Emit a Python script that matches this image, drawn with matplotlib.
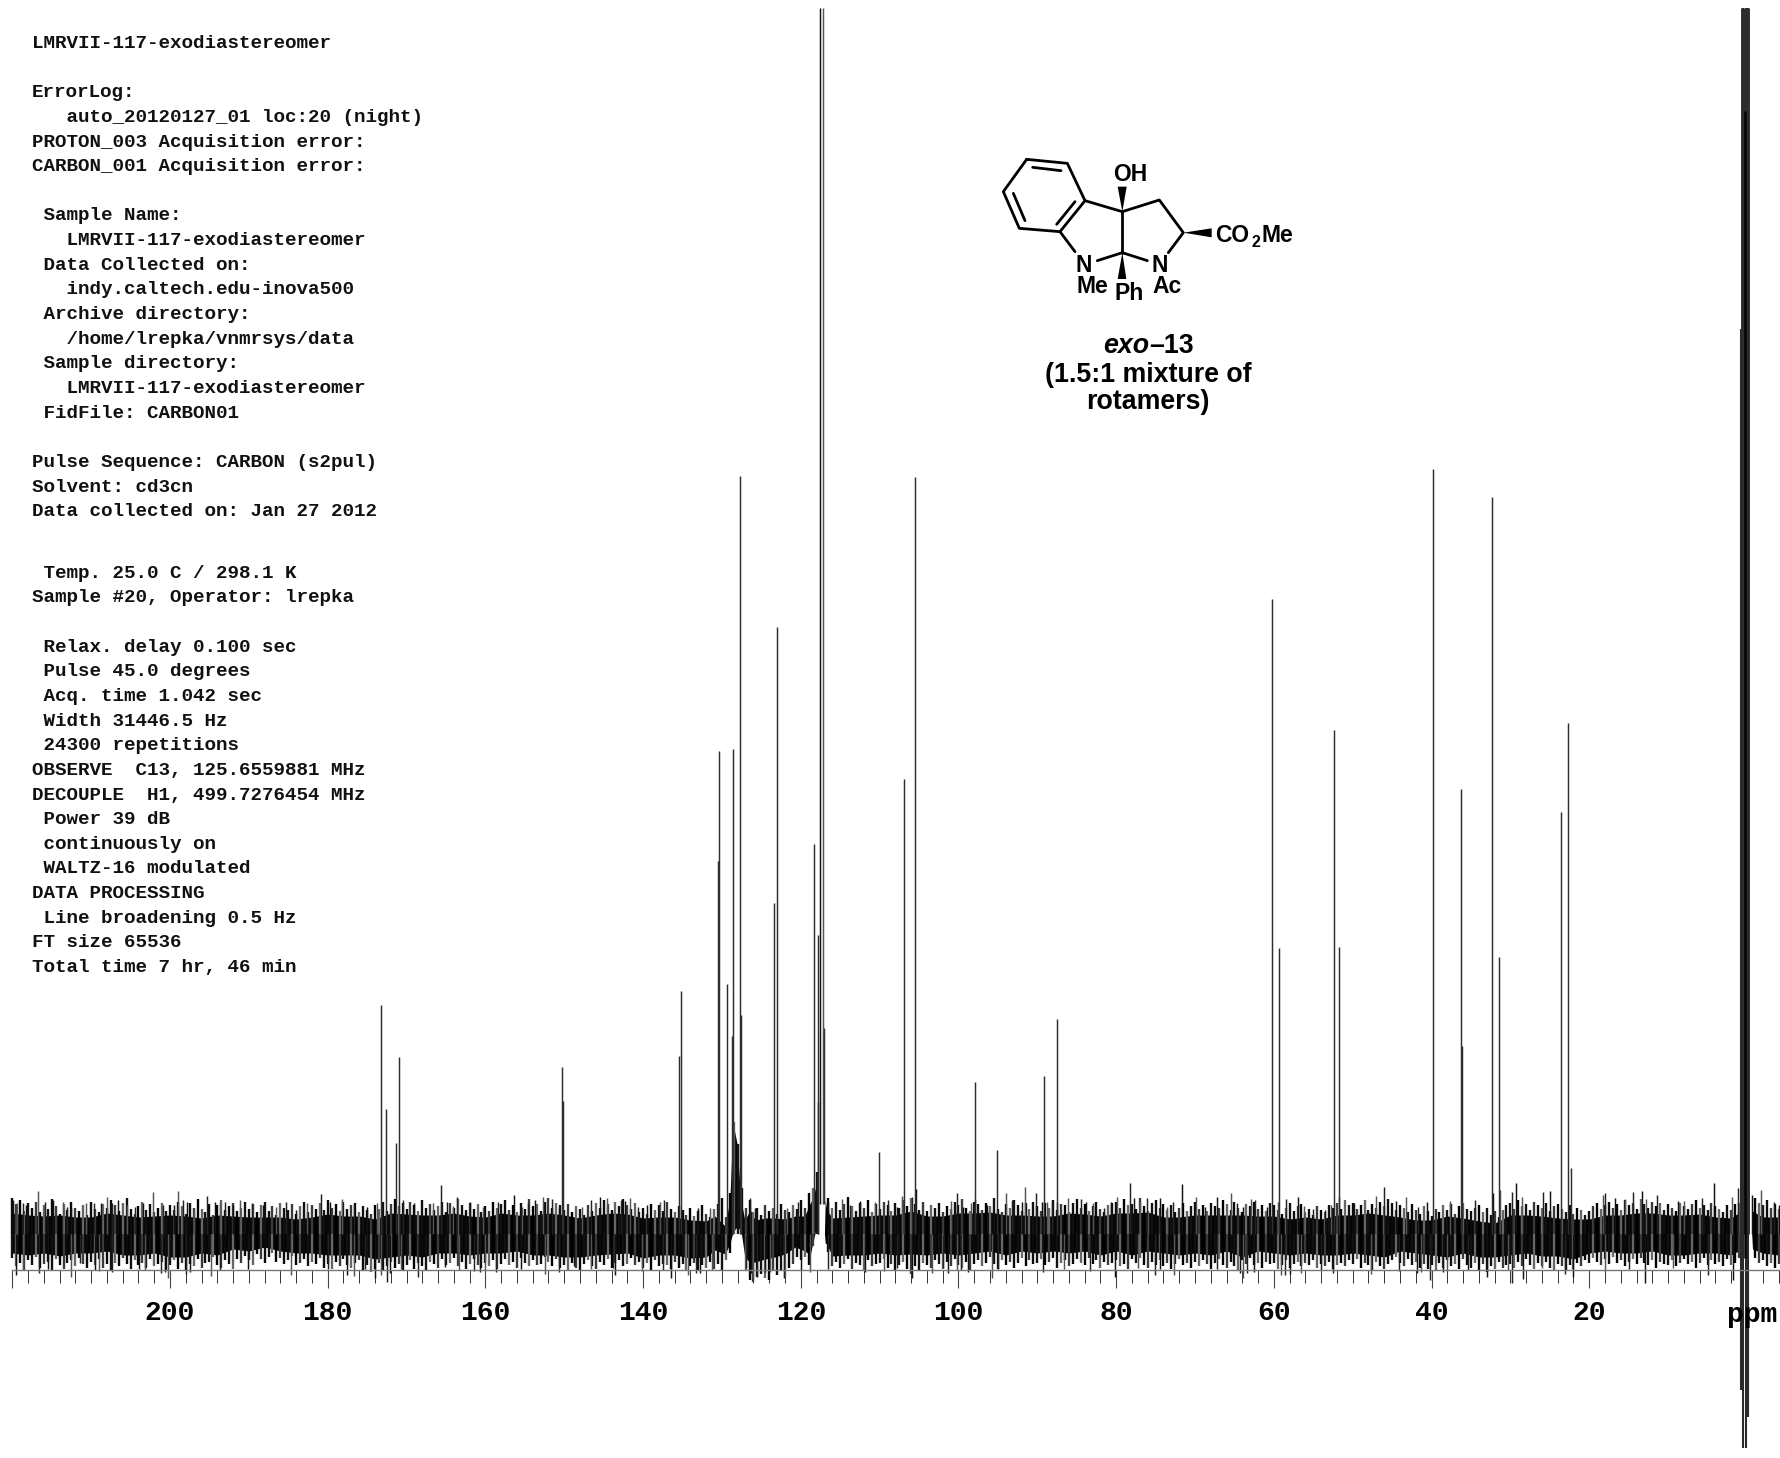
import matplotlib
matplotlib.use("Agg")
import matplotlib.pyplot as plt
from matplotlib.patches import Polygon
from matplotlib.ticker import FixedLocator, FixedFormatter

# acquisition text, one entry per printed line
header_lines = [
    "LMRVII-117-exodiastereomer", "",
    "ErrorLog:",
    "   auto_20120127_01 loc:20 (night)",
    "PROTON_003 Acquisition error:",
    "CARBON_001 Acquisition error:", "",
    " Sample Name:",
    "   LMRVII-117-exodiastereomer",
    " Data Collected on:",
    "   indy.caltech.edu-inova500",
    " Archive directory:",
    "   /home/lrepka/vnmrsys/data",
    " Sample directory:",
    "   LMRVII-117-exodiastereomer",
    " FidFile: CARBON01", "",
    "Pulse Sequence: CARBON (s2pul)",
    "Solvent: cd3cn",
    "Data collected on: Jan 27 2012",
]
footer_lines = [
    " Temp. 25.0 C / 298.1 K",
    "Sample #20, Operator: lrepka", "",
    " Relax. delay 0.100 sec",
    " Pulse 45.0 degrees",
    " Acq. time 1.042 sec",
    " Width 31446.5 Hz",
    " 24300 repetitions",
    "OBSERVE  C13, 125.6559881 MHz",
    "DECOUPLE  H1, 499.7276454 MHz",
    " Power 39 dB",
    " continuously on",
    " WALTZ-16 modulated",
    "DATA PROCESSING",
    " Line broadening 0.5 Hz",
    "FT size 65536",
    "Total time 7 hr, 46 min",
]

# resolved peaks: shift (ppm) and height above the baseline
peak_ppm = [173.2, 172.6, 171.4, 171.0, 150.3, 150.15, 135.4, 135.25, 130.56, 130.41,
            129.4, 128.69, 128.6, 127.67, 127.62, 123.44, 122.98, 118.33, 117.85, 117.78,
            110.1, 106.96, 105.5, 97.9, 95.15, 89.2, 87.5, 60.24, 59.3, 52.4,
            51.7, 39.87, 36.27, 36.2, 32.3, 31.45, 23.6, 22.74, 22.3]
peak_height = [229, 125, 91, 177, 167, 133, 178, 243, 373, 483,
               250, 198, 485, 758, 219, 331, 607, 390, 132, 299,
               82, 455, 757, 152, 84, 158, 215, 635, 286, 504,
               287, 765, 445, 188, 737, 277, 422, 511, 66]

# CD3CN signals run off the top of the plot
cd3cn_ppm = [117.6, 117.18, 117.06]
cd3cn_height = [1226, 1226, 206]
cd3cn_base = [30, 30, 30]

# big signal near 0 ppm, phase error makes it run both ways
ref_ppm = [0.73, 0.47, 0.13, -0.16]
ref_top = [905, 1226, 1226, 1226]
ref_bottom = [-156, -214, -214, -183]

# solid part of the noise band, upper and lower edge
noise_ppm = [220, 218, 216, 214, 212, 210, 208, 206, 204, 202, 200, 198, 196, 194, 192, 190,
             188, 186, 184, 182, 180, 178, 176, 174, 172, 170, 168, 166, 164, 162, 160, 158,
             156, 154, 152, 150, 148, 146, 144, 142, 140, 138, 136, 134, 132, 130.9, 129.6, 129,
             128.6, 128.1, 127.6, 127.1, 126.4, 125.8, 124.5, 123.3, 122, 120.7, 119.5, 118.8,
             118.4, 118, 117.8, 117.75, 117, 116.9, 116.7, 116, 114, 112, 110, 108, 106, 104, 102, 100,
             98, 96, 94, 92, 90, 88, 86, 84, 82, 80, 78, 76, 74, 72, 70, 68,
             66, 64, 62, 60, 58, 56, 54, 52, 50, 48, 46, 44, 42, 40, 38, 36,
             34, 32, 30, 28, 26, 24, 22, 20, 18, 16, 14, 12, 10, 8, 6, 4,
             2, 1.1, 1, -0.6, -0.7, -2, -4, -4.2]
noise_top = [24, 22, 21, 22, 20, 20, 24, 22, 20, 21, 22, 21, 19, 22, 21, 20,
             20, 20, 18, 20, 23, 21, 21, 18, 24, 23, 22, 22, 24, 21, 20, 24,
             22, 22, 24, 22, 19, 22, 24, 23, 19, 20, 20, 17, 16, 21, 11, 34,
             111, 91, 34, 17, 27, 17, 19, 19, 18, 21, 21, 31,
             37, 51, 51, 0, 0, 34, 27, 19, 20, 21, 22, 22, 26, 21, 21, 24,
             24, 25, 22, 22, 21, 21, 24, 23, 21, 24, 24, 25, 20, 20, 22, 22,
             22, 22, 21, 21, 18, 20, 18, 22, 22, 24, 22, 20, 17, 17, 21, 19,
             16, 14, 22, 22, 21, 19, 18, 18, 22, 22, 24, 24, 22, 22, 23, 20,
             19, 24, 0, 0, 26, 20, 20, 20]
noise_bottom = [-22, -24, -22, -25, -22, -22, -20, -24, -24, -22, -26, -26, -22, -24, -18, -20,
                -16, -20, -22, -22, -24, -24, -24, -28, -26, -24, -26, -22, -22, -24, -22, -22,
                -20, -24, -24, -26, -26, -24, -23, -22, -27, -24, -24, -27, -26, -19, -23, -13,
                2, 7, 4, -26, -39, -38, -35, -33, -30, -16, -20, -24,
                -6, 7, 7, 0, 0, -9, -13, -25, -24, -24, -22, -24, -30, -24, -22, -24,
                -22, -20, -24, -20, -22, -20, -22, -20, -24, -20, -24, -20, -22, -24, -22, -24,
                -20, -26, -20, -22, -24, -22, -24, -24, -22, -24, -26, -20, -22, -24, -26, -22,
                -26, -26, -24, -22, -25, -25, -28, -22, -20, -22, -22, -20, -24, -24, -22, -22,
                -24, -20, 0, 0, -18, -22, -24, -24]

# noise spikes sticking out above and below the band
spike_up_ppm = [219.87, 219.36, 218.7, 218.2, 216.8, 215.85, 214.8, 213.6, 213.1, 212.5, 210.6, 209.7,
                208.7, 208.0, 207.4, 206.55, 205.5, 204.4, 203.4, 202.2, 200.85, 199.5, 199.0, 198.4,
                197.9, 197.0, 195.3, 194.3, 193.65, 193.0, 192.0, 191.1, 189.6, 188.2, 186.5, 185.3,
                184.0, 182.65, 180.8, 179.7, 178.2, 176.7, 175.05, 173.8, 170.4, 169.1, 166.6, 165.6,
                164.9, 164.15, 163.65, 161.9, 160.3, 158.4, 156.4, 155.4, 154.55, 153.7, 152.65, 151.6,
                150.65, 147.8, 146.65, 145.5, 144.6, 142.85, 142.3, 141.7, 140.6, 139.55, 137.85, 137.4,
                133.0, 131.5, 126.45, 125.8, 121.8, 120.3, 116.5, 114.8, 113.75, 112.5, 110.6, 108.9,
                107.85, 107.1, 105.95, 105.4, 100.9, 100.15, 99.4, 98.4, 97.9, 96.4, 94.0, 93.2,
                92.0, 91.55, 90.2, 89.45, 88.8, 88.15, 87.55, 86.1, 84.4, 83.8, 82.9, 81.6,
                80.6, 79.85, 78.2, 77.7, 77.0, 76.05, 74.45, 73.6, 72.75, 71.65, 69.9, 68.75,
                67.15, 65.5, 64.7, 63.9, 62.9, 62.4, 60.9, 59.45, 58.4, 57.0, 56.15, 55.0,
                53.5, 52.7, 51.7, 49.9, 47.0, 46.0, 44.55, 43.3, 41.7, 40.55, 37.65, 34.5,
                32.25, 31.35, 29.75, 29.3, 28.55, 25.9, 25.0, 18.3, 17.95, 16.75, 15.5, 14.5,
                13.35, 12.75, 11.4, 8.7, 7.95, 5.75, 4.2, 1.95, 1.1, -0.6, -1.75, -3.45, -4.0]
spike_up_val = [34, 31, 31, 29, 43, 32, 34, 32, 27, 26, 31, 31,
                31, 37, 31, 34, 29, 27, 31, 42, 29, 29, 43, 34,
                32, 24, 38, 32, 31, 32, 29, 34, 31, 29, 27, 32,
                24, 31, 40, 32, 35, 29, 27, 31, 34, 31, 31, 49,
                32, 28, 37, 32, 27, 32, 39, 27, 31, 34, 37, 35,
                26, 27, 34, 37, 36, 34, 33, 36, 27, 29, 32, 34,
                26, 26, 36, 26, 26, 32, 32, 35, 29, 33, 32, 34,
                27, 38, 37, 45, 33, 41, 27, 31, 35, 29, 41, 34,
                32, 47, 41, 32, 32, 32, 32, 36, 35, 32, 31, 26,
                32, 37, 51, 36, 32, 36, 36, 27, 32, 50, 37, 27,
                37, 41, 31, 27, 35, 34, 27, 32, 35, 37, 28, 25,
                24, 29, 37, 31, 38, 47, 33, 37, 27, 32, 33, 34,
                41, 44, 42, 51, 37, 42, 43, 39, 41, 36, 35, 42,
                43, 35, 39, 33, 33, 36, 51, 37, 46, 39, 44, 32, 29]
spike_down_ppm = [219.5, 218.6, 216.6, 215.5, 212.55, 211.4, 209.5, 208.96, 207.3, 203.9, 203.2, 201.1,
                  200.6, 200.2, 198.0, 197.5, 194.8, 193.7, 190.1, 184.7, 179.9, 177.5, 176.7, 175.3,
                  174.0, 173.2, 172.5, 172.1, 170.7, 168.5, 165.1, 163.3, 161.45, 160.7, 160.1, 158.6,
                  155.5, 152.45, 150.65, 148.7, 146.6, 143.85, 143.5, 140.2, 137.5, 136.45, 134.25, 133.3,
                  132.8, 131.2, 127.0, 126.3, 126.0, 125.5, 124.5, 123.9, 122.1, 120.0, 118.8, 116.6,
                  111.85, 109.5, 107.85, 105.95, 103.3, 101.9, 101.3, 100.25, 99.7, 98.75, 95.8, 95.0,
                  89.25, 86.6, 83.3, 80.15, 77.2, 75.1, 74.45, 72.65, 67.15, 64.3, 63.9, 63.45,
                  62.5, 59.15, 58.6, 57.95, 56.6, 54.05, 52.45, 47.7, 44.1, 41.9, 41.4, 40.2,
                  38.5, 38.1, 35.35, 33.0, 30.35, 29.85, 28.35, 26.0, 23.1, 22.1, 18.0, 14.9,
                  12.95, 9.35, 4.9, 1.8]
spike_down_val = [-41, -36, -39, -35, -43, -29, -36, -37, -38, -35, -36, -39,
                  -38, -44, -40, -38, -42, -36, -35, -41, -35, -41, -42, -35,
                  -44, -41, -48, -39, -35, -43, -33, -36, -37, -38, -36, -38,
                  -35, -40, -38, -32, -35, -34, -41, -37, -36, -44, -41, -39,
                  -39, -36, -34, -39, -44, -43, -38, -38, -44, -36, -38, -35,
                  -38, -37, -34, -44, -39, -34, -39, -36, -36, -38, -44, -35,
                  -38, -35, -37, -43, -34, -41, -35, -41, -35, -39, -44, -39,
                  -38, -41, -41, -40, -39, -36, -39, -40, -37, -39, -38, -46,
                  -38, -37, -36, -43, -36, -49, -45, -34, -40, -43, -38, -35,
                  -49, -34, -41, -46]

# rough edge of the band, one value per half ppm from 220 down, estimated by eye
fringe_up = [30, 25, 28, 19, 26, 22, 27, 18, 24, 21, 29, 23, 17, 25, 20, 27, 22, 19, 24, 16,
             27, 21, 18, 25, 22, 28, 24, 19, 26, 30, 21, 17, 23, 27, 20, 25, 18, 22, 26, 19,
             24, 20, 27, 23, 17, 26, 22, 29, 21, 18, 25, 16, 24, 28, 20, 23, 26, 19, 22, 27,
             21, 25, 18, 24, 27, 19, 23, 16, 26, 22, 20, 25, 17, 23, 27, 18, 24, 21, 26, 20,
             28, 22, 25, 19, 27, 21, 24, 26, 18, 23, 20, 17, 24, 21, 27, 19, 25, 29, 23, 26,
             21, 27, 24, 19, 28, 22, 25, 20, 23, 27, 18, 26, 22, 29, 24, 20, 26, 21, 25, 18,
             23, 19, 27, 22, 25, 28, 20, 24, 18, 26, 21, 29, 23, 25, 19, 27, 30, 22, 26, 24,
             20, 25, 18, 23, 21, 16, 24, 19, 26, 22, 28, 25, 20, 27, 23, 29, 24, 21, 26, 18,
             22, 17, 25, 20, 24, 19, 27, 21, 18, 23, 20, 16, 22, 15, 19, 24, 17, 14, 21, 25,
             30, 14, 34, 112, 90, 38, 22, 28, 18, 22, 16, 24, 19, 22, 17, 25, 20, 18, 24, 21,
             28, 22, 34, 38, 52, 0, 0, 30, 22, 27, 20, 25, 31, 23, 19, 26, 22, 28, 18, 25,
             21, 27, 24, 19, 26, 22, 28, 23, 30, 25, 20, 27, 19, 24, 22, 26, 18, 23, 21, 27,
             24, 29, 22, 19, 27, 25, 20, 26, 23, 30, 21, 18, 25, 22, 28, 24, 19, 26, 21, 27,
             23, 19, 26, 22, 28, 20, 25, 24, 18, 26, 29, 22, 25, 19, 23, 27, 21, 18, 24, 26,
             27, 22, 29, 24, 25, 21, 30, 23, 19, 26, 28, 22, 25, 20, 24, 18, 22, 26, 19, 23,
             27, 21, 24, 19, 26, 23, 22, 28, 25, 20, 27, 22, 18, 25, 23, 27, 21, 24, 19, 26,
             24, 20, 17, 22, 26, 19, 23, 25, 18, 21, 16, 23, 20, 18, 24, 22, 26, 21, 28, 24,
             26, 21, 24, 28, 20, 25, 22, 27, 23, 29, 26, 20, 24, 22, 18, 25, 20, 17, 23, 19,
             15, 21, 18, 24, 20, 25, 17, 23, 26, 21, 19, 22, 24, 18, 22, 16, 19, 14, 20, 24,
             26, 21, 28, 23, 25, 20, 27, 24, 22, 26, 19, 23, 25, 21, 18, 24, 17, 22, 20, 16,
             19, 23, 26, 21, 24, 27, 22, 25, 20, 28, 24, 26, 21, 29, 25, 22, 27, 23, 26, 20,
             25, 22, 19, 26, 23, 21, 25, 28, 22, 24, 20, 26, 23, 21, 18, 24, 20, 25, 26, 0,
             0, 0, 30, 26, 24, 28, 22, 25, 21]
fringe_down = [-20, -27, -24, -30, -22, -26, -19, -28, -25, -23, -31, -21, -26, -29, -24, -22, -27, -20, -25, -28,
               -23, -26, -21, -28, -25, -30, -24, -27, -20, -25, -29, -22, -26, -24, -28, -21, -27, -25, -23, -30,
               -26, -22, -29, -24, -31, -25, -27, -21, -28, -24, -23, -19, -26, -28, -22, -25, -29, -21, -24, -18,
               -22, -26, -17, -21, -24, -19, -16, -23, -20, -25, -22, -18, -26, -24, -21, -27, -23, -25, -20, -28,
               -25, -29, -23, -27, -21, -26, -28, -24, -22, -30, -26, -32, -29, -24, -31, -27, -23, -28, -25, -30,
               -26, -22, -29, -24, -27, -31, -23, -25, -28, -21, -26, -24, -20, -27, -23, -29, -25, -21, -26, -28,
               -24, -27, -22, -29, -25, -21, -26, -23, -28, -20, -24, -27, -22, -26, -25, -19, -23, -27, -21, -28,
               -26, -30, -24, -28, -31, -25, -22, -27, -29, -23, -26, -21, -28, -24, -22, -27, -25, -20, -26, -23,
               -28, -24, -30, -22, -27, -25, -26, -29, -23, -28, -25, -31, -27, -24, -30, -26, -28, -23, -29, -25,
               -30, -22, -16, 0, 0, 0, -30, -38, -40, -36, -33, -37, -38, -31, -34, -30, -36, -28, -25, -19,
               -22, -19, -26, -10, 0, 0, 0, -15, -27, -23, -28, -25, -21, -29, -24, -26, -30, -22, -27, -25,
               -24, -21, -28, -25, -31, -26, -23, -29, -33, -27, -30, -24, -26, -28, -22, -25, -29, -23, -27, -21,
               -26, -28, -23, -30, -25, -22, -27, -24, -19, -25, -29, -22, -26, -23, -28, -24, -20, -27, -22, -25,
               -24, -21, -26, -23, -20, -28, -24, -22, -27, -25, -21, -24, -26, -20, -25, -22, -28, -23, -26, -24,
               -22, -27, -25, -29, -21, -24, -20, -26, -28, -23, -26, -22, -27, -24, -29, -25, -21, -26, -24, -28,
               -23, -27, -22, -25, -29, -24, -21, -26, -28, -23, -27, -30, -22, -25, -20, -26, -24, -28, -23, -25,
               -24, -29, -26, -22, -28, -25, -23, -27, -24, -26, -22, -28, -25, -27, -23, -29, -26, -24, -27, -22,
               -25, -21, -28, -24, -26, -30, -23, -27, -29, -25, -22, -19, -24, -27, -21, -26, -23, -28, -25, -29,
               -26, -30, -24, -28, -22, -27, -25, -29, -21, -26, -28, -24, -30, -25, -32, -27, -29, -23, -28, -26,
               -25, -28, -23, -27, -21, -26, -29, -24, -27, -23, -28, -30, -25, -27, -31, -26, -29, -24, -27, -22,
               -24, -20, -23, -26, -21, -25, -19, -24, -22, -27, -23, -21, -25, -20, -24, -26, -22, -28, -23, -25,
               -26, -22, -27, -24, -21, -25, -23, -28, -24, -20, -26, -22, -25, -23, -27, -21, -26, -24, -20, 0,
               0, 0, -20, -24, -22, -27, -24, -28, -25]
fringe_ppm = [220 - 0.5 * i for i in range(len(fringe_up))]

major_ticks = list(range(220, -1, -20))
major_labels = ["", "200", "180", "160", "140", "120", "100", "80", "60", "40", "20", ""]
minor_ticks = [t for t in range(218, -5, -2) if t % 20 != 0]

fig = plt.figure(figsize=(17.8, 14.58), dpi=100)
ax = fig.add_axes([0, 0, 1, 1])
ax.set_xlim(221.56, -4.19)
ax.set_ylim(-224, 1234)
ax.patch.set_visible(False)

# spectrum, band first then the rough edge on top of it
core_top = [t - 3 if 0 < t < 30 else t for t in noise_top]
core_bottom = [b + 10 if b <= -30 else b + 3 if b < -10 else b for b in noise_bottom]
ax.fill_between(noise_ppm, core_bottom, core_top, color="#050505", lw=0)
edge_colors = ["#0a0a0a", "#3a3a3a", "#000000", "#666666", "#111111"]
# my edge readings came out a bit short against the picture
edge_up = [v * 1.2 if v < 60 else v for v in fringe_up]
edge_down = [v * 1.2 for v in fringe_down]
ax.vlines(fringe_ppm, 0, edge_up, colors=edge_colors, lw=1.7)
ax.vlines(fringe_ppm, edge_down, 0, colors=edge_colors[::-1], lw=1.7)
spike_colors = ["#111111", "#555555", "#222222"]
ax.vlines(spike_up_ppm, 0, spike_up_val, colors=spike_colors, lw=1.05)
ax.vlines(spike_down_ppm, spike_down_val, 0, colors=spike_colors, lw=1.05)
ax.vlines(peak_ppm, 0, peak_height, colors="#2e2e2e", lw=1.05)
ax.vlines(cd3cn_ppm, cd3cn_base, cd3cn_height, colors=["#111111", "#555555", "#333333"], lw=1.05)
ax.vlines(ref_ppm, ref_bottom, ref_top, colors="#2a2a2a", lw=1.5)
ax.vlines([0.19], [0], [1226], colors="#2c2c2c", lw=6.4)
ax.vlines([0.19], [-24], [1123], colors="#050505", lw=1.8)

# axis drawn with real ticks on the bottom spine
for side in ["left", "right", "top"]:
    ax.spines[side].set_visible(False)
ax.yaxis.set_visible(False)
ax.spines["bottom"].set_position(("data", -35.5))
ax.spines["bottom"].set_bounds(220, -4.19)
ax.spines["bottom"].set_color("#777777")
ax.spines["bottom"].set_linewidth(1.0)
ax.xaxis.set_major_locator(FixedLocator(major_ticks))
ax.xaxis.set_major_formatter(FixedFormatter(major_labels))
ax.xaxis.set_minor_locator(FixedLocator(minor_ticks))
ax.tick_params(axis="x", which="major", length=12.6, width=0.8, color="#444444", pad=9.5)
ax.tick_params(axis="x", which="minor", length=6.1, width=0.7, color="#333333")
for tick in ax.xaxis.get_minor_ticks():
    if tick.get_loc() % 10 == 0:
        tick.tick1line.set_markersize(9.7)
for label in ax.get_xticklabels():
    label.set_fontfamily("Liberation Mono")
    label.set_fontweight("bold")
    label.set_fontsize(20.2)
ax.text(-0.63, -81, "ppm", family="Liberation Mono", weight="bold", fontsize=20.2,
        ha="center", va="center")

# overlay in image pixels for the printed text and the structure
ov = fig.add_axes([0, 0, 1, 1])
ov.set_xlim(0, 1780)
ov.set_ylim(1458, 0)
ov.axis("off")
ov.patch.set_visible(False)

mono = dict(family="Liberation Mono", weight="bold", fontsize=13.9, va="baseline", ha="left", color="#111111")
line_step = 24.64
y = 48.0
for text in header_lines:
    if text:
        ov.text(32, y, text, **mono)
    y += line_step
y += line_step * 1.5
for text in footer_lines:
    if text:
        ov.text(32, y, text, **mono)
    y += line_step


def zx(v):
    return 960 + v / 3


def zy(v):
    return 130 + v / 3


bonds = [
    [(200, 88), (322, 100), (375, 212), (300, 305), (178, 295), (130, 185), (200, 88)],
    [(218, 112), (303, 122)],
    [(345, 215), (290, 283)],
    [(160, 190), (195, 272)],
    [(375, 212), (487, 245), (598, 210), (670, 308), (625, 368)],
    [(487, 245), (487, 368)],
    [(412, 392), (487, 368), (562, 392)],
    [(300, 305), (345, 365)],
]
for bond in bonds:
    ov.plot([zx(p[0]) for p in bond], [zy(p[1]) for p in bond], color="black", lw=2.0,
            solid_joinstyle="round", solid_capstyle="round")
wedges = [
    [(487, 245), (473, 170), (500, 170)],
    [(487, 368), (473, 447), (499, 447)],
    [(670, 308), (755, 295), (755, 322)],
]
for wedge in wedges:
    ov.add_patch(Polygon([(zx(p[0]), zy(p[1])) for p in wedge], closed=True, color="black", lw=0))

sans = dict(family="Liberation Sans", weight="bold", fontsize=16.5, color="black")
for label, lx, ly in [("OH", 510, 153), ("N", 370, 427), ("Me", 397, 490), ("Ph", 507, 510),
                      ("N", 600, 427), ("Ac", 620, 490)]:
    ov.text(zx(lx), zy(ly), label, ha="center", va="baseline", **sans)
ov.text(zx(766), zy(335), "CO", ha="left", va="baseline", **sans)
ov.text(zx(875), zy(350), "2", ha="left", va="baseline", family="Liberation Sans", weight="bold", fontsize=11.5)
ov.text(zx(905), zy(335), "Me", ha="left", va="baseline", **sans)

ov.text(1149, 352.5, "exo", ha="right", va="baseline", family="Liberation Sans", weight="bold",
        style="italic", fontsize=19.3)
ov.text(1149, 352.5, "\u201313", ha="left", va="baseline", family="Liberation Sans", weight="bold", fontsize=19.3)
ov.text(1148, 382, "(1.5:1 mixture of", ha="center", va="baseline", family="Liberation Sans",
        weight="bold", fontsize=19.3)
ov.text(1148, 409, "rotamers)", ha="center", va="baseline", family="Liberation Sans",
        weight="bold", fontsize=19.3)

fig.savefig("out.png", dpi=100)
